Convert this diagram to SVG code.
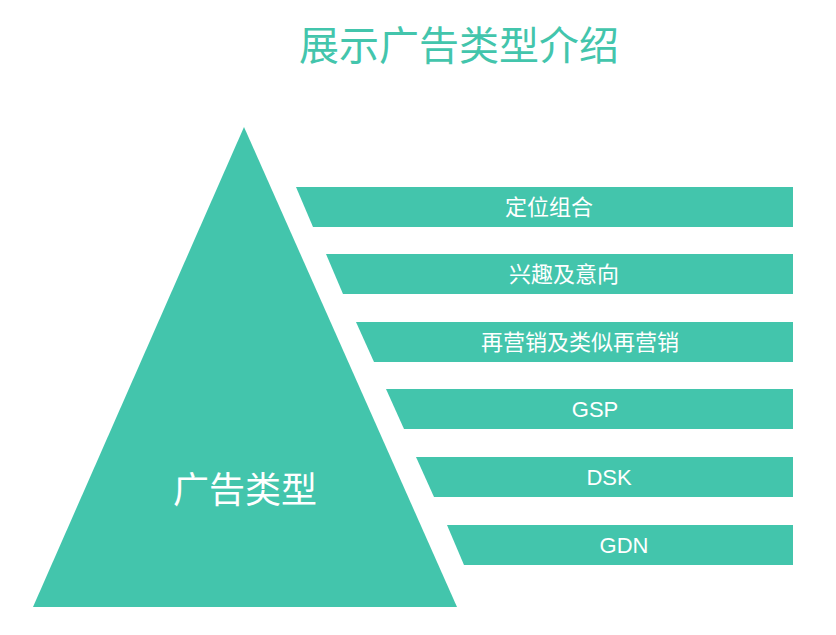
<svg xmlns="http://www.w3.org/2000/svg" width="836" height="635" viewBox="0 0 836 635">
<style>
.f{fill:#43C5AC}
.t{fill:#fff;font-family:"Liberation Sans","Noto Sans CJK SC",sans-serif;font-size:22px;text-anchor:middle;dominant-baseline:central}
</style>
<rect width="836" height="635" fill="#fff"/>
<text x="459" y="46" font-family="Liberation Sans,'Noto Sans CJK SC',sans-serif" font-size="40" fill="#43C5AC" text-anchor="middle" dominant-baseline="central">展示广告类型介绍</text>
<g id="pyramid">
<polygon class="f" points="244,127 457,607 33,607"/>
<text x="245" y="490" class="t" font-size="36" style="font-size:36px">广告类型</text>
</g>
<g id="bar1"><polygon class="f" points="296,187 793,187 793,227 313,227"/><text class="t" x="549" y="207">定位组合</text></g>
<g id="bar2"><polygon class="f" points="326,254 793,254 793,294 343,294"/><text class="t" x="564" y="274">兴趣及意向</text></g>
<g id="bar3"><polygon class="f" points="356,322 793,322 793,362 374,362"/><text class="t" x="580" y="342">再营销及类似再营销</text></g>
<g id="bar4"><polygon class="f" points="386,389 793,389 793,429 404,429"/><text class="t" x="595" y="409">GSP</text></g>
<g id="bar5"><polygon class="f" points="416,457 793,457 793,497 434,497"/><text class="t" x="609" y="477">DSK</text></g>
<g id="bar6"><polygon class="f" points="447,525 793,525 793,565 464,565"/><text class="t" x="624" y="545">GDN</text></g>
<g id="connectors"/>
</svg>
